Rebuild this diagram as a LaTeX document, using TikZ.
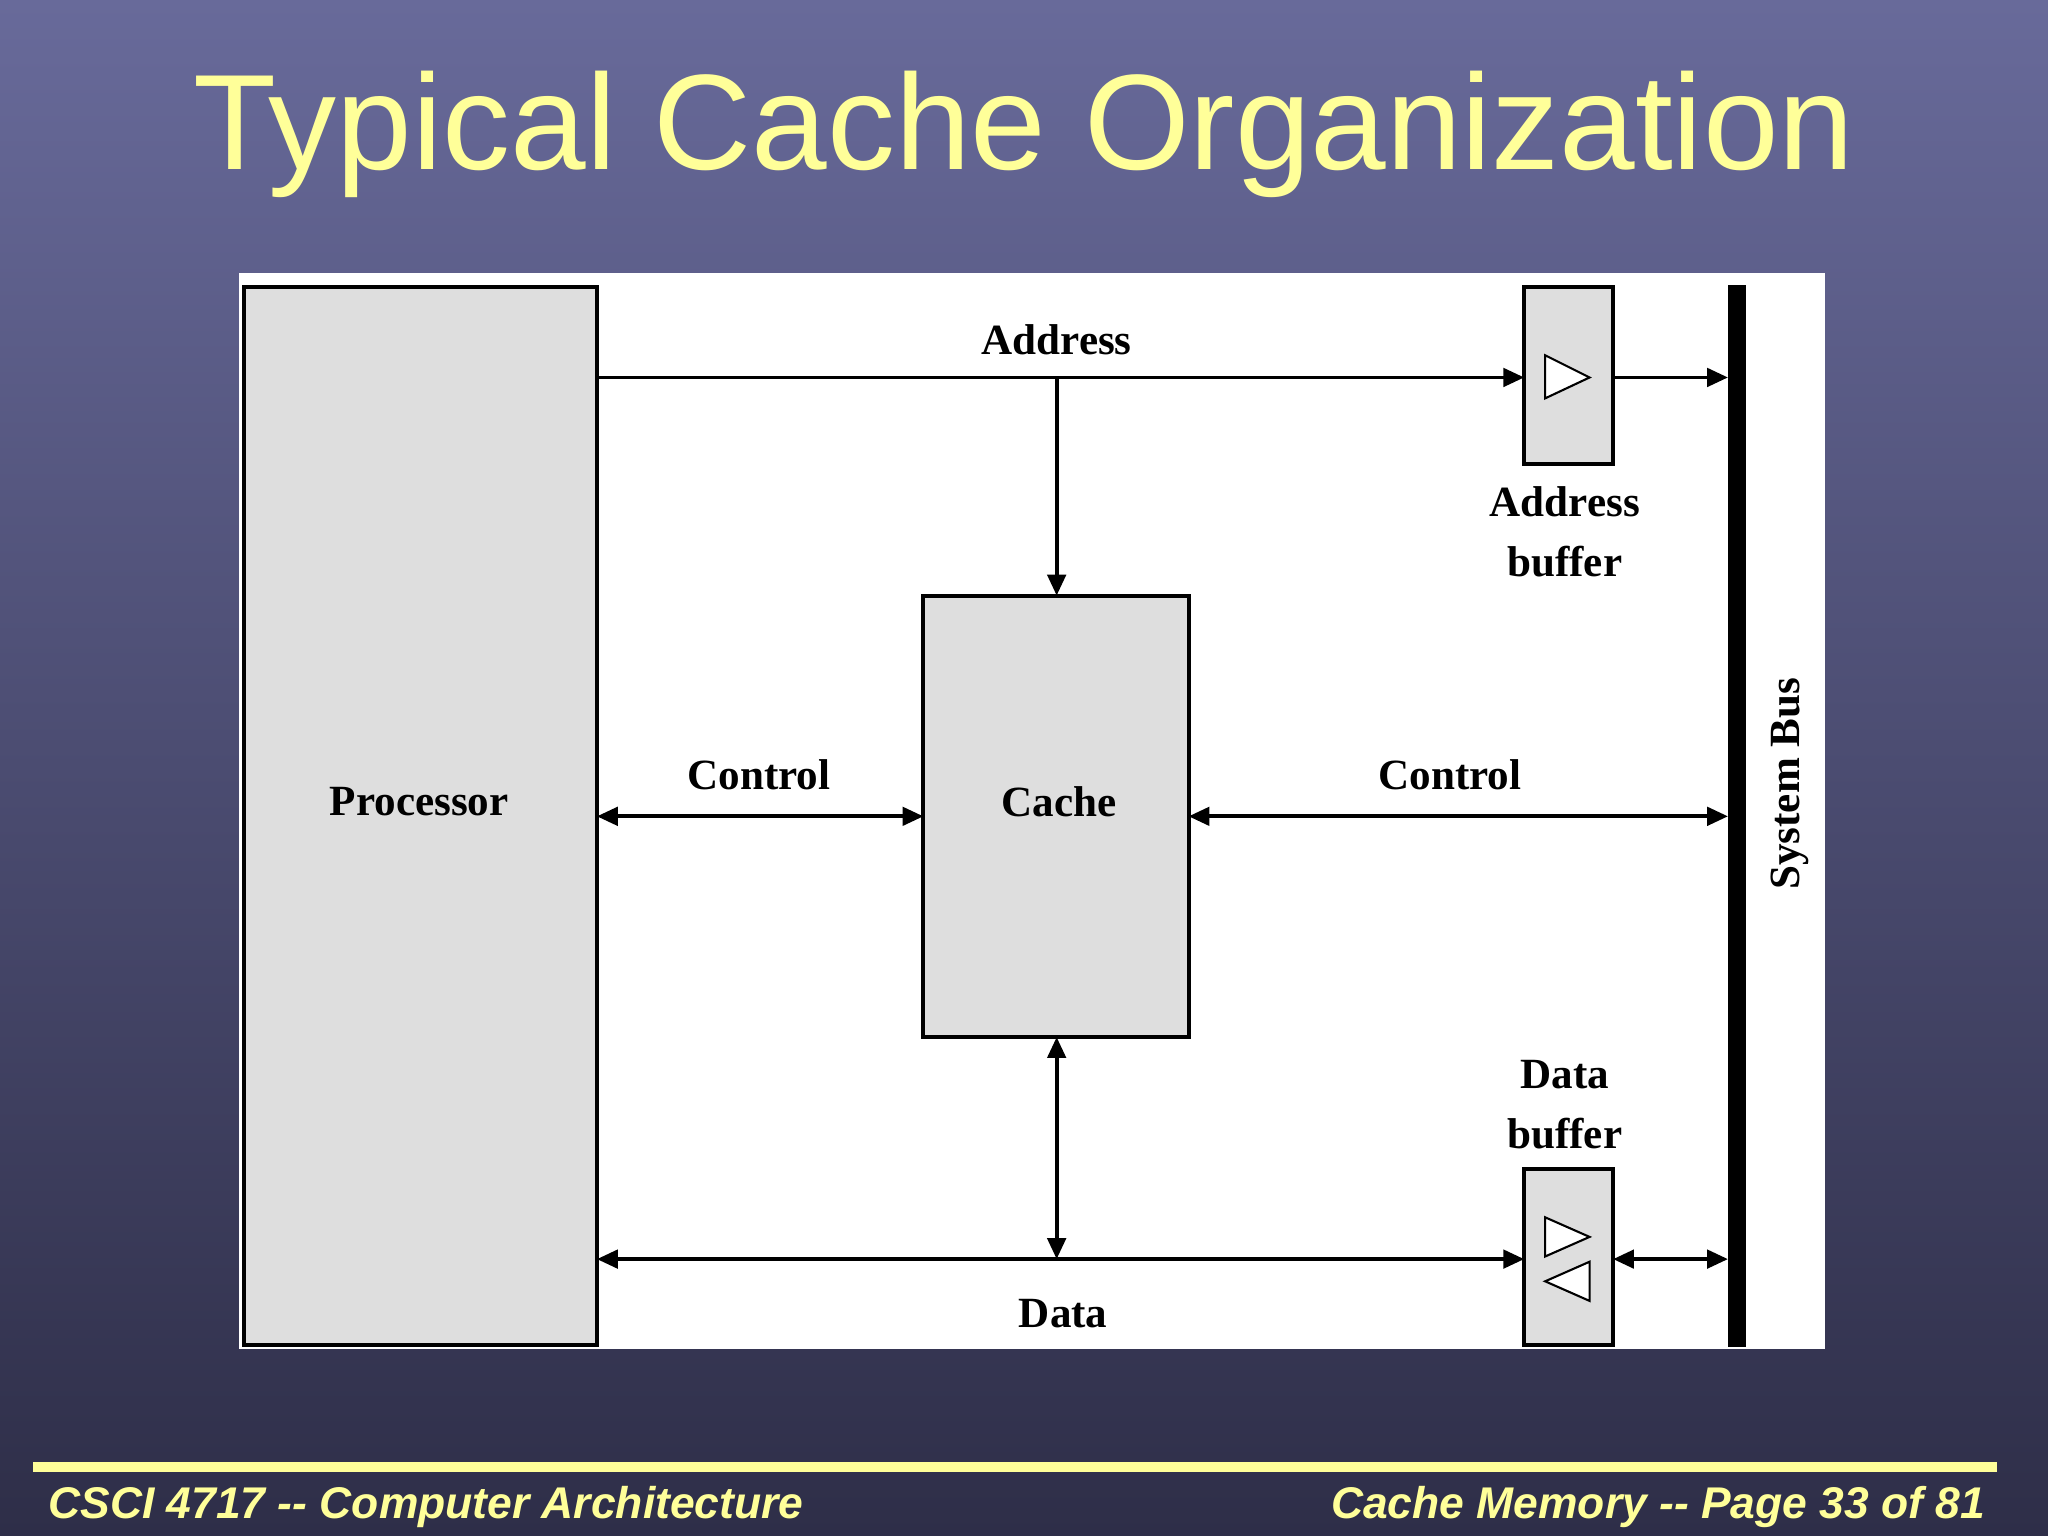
\documentclass[tikz,border=0pt]{standalone}
\usepackage{fontspec}
\setmainfont{Liberation Serif}
\newfontfamily\arial{Liberation Sans}
\usetikzlibrary{arrows.meta}
\definecolor{ttl}{HTML}{FFFF99}
\begin{document}
\begin{tikzpicture}[x=0.5pt,y=-0.5pt,
  box/.style={draw=black,line width=1.5pt,fill=black!13},
  wire/.style={line width=1.5pt},
  tip/.style={-{Triangle[length=8pt,width=7pt]}},
  tips/.style={{Triangle[length=8pt,width=7pt]}-{Triangle[length=8pt,width=7pt]}},
  lbl/.style={font=\fontsize{16.5}{19}\selectfont\bfseries,align=center,inner sep=0}]
\useasboundingbox (0,0) rectangle (1568,1176);
\shade[top color={rgb,255:red,104;green,106;blue,154},bottom color={rgb,255:red,46;green,46;blue,72}] (0,0) rectangle (1568,1176);
\node[font=\arial\fontsize{52}{60}\selectfont,text=ttl] (title) at (784,103) {Typical Cache Organization};
\fill[white] (183,209) rectangle (1397,1033);
\draw[box] (187,220) rectangle (457,1030);
\node[lbl] (proc) at (321,614) {Processor};
\draw[box] (707,456) rectangle (910,794);
\node[lbl] (cache) at (811,614) {Cache};
\draw[box] (1167,220) rectangle (1235,355);
\draw[box] (1167,895) rectangle (1235,1030);
\draw[line width=0.8pt,fill=white] (1183,272)--(1183,305)--(1217,289)--cycle;
\draw[line width=0.8pt,fill=white] (1183,932)--(1183,962)--(1217,947)--cycle;
\draw[line width=0.8pt,fill=white] (1217,966)--(1217,996)--(1183,981)--cycle;
\fill[black] (1323,218) rectangle (1337,1031);
\coordinate (a0) at (457,289); \coordinate (a1) at (1167,289);
\coordinate (a2) at (1235,289); \coordinate (a3) at (1323,289);
\coordinate (am) at (809,289); \coordinate (ct) at (809,456);
\draw[wire,tip] (a0)--(a1);
\draw[wire,tip] (a2)--(a3);
\draw[wire,tip] (am)--(ct);
\draw[wire,tips] (457,625)--(707,625);
\draw[wire,tips] (910,625)--(1323,625);
\draw[wire,tips] (457,964)--(1167,964);
\draw[wire,tips] (809,794)--(809,964);
\draw[wire,tips] (1235,964)--(1323,964);
\node[lbl] (la) at (809,260) {Address};
\node[lbl] (lab) at (1198,407) {Address\\[4pt]buffer};
\node[lbl] (lc1) at (581,593) {Control};
\node[lbl] (lc2) at (1110,593) {Control};
\node[lbl] (ldb) at (1198,846) {Data\\[4pt]buffer};
\node[lbl] (ld) at (814,1006) {Data};
\node[lbl,rotate=90] (bus) at (1370,600) {System Bus};
\fill[ttl] (25,1119) rectangle (1529,1127);
\node[anchor=west,text=ttl,font=\arial\fontsize{17}{20}\selectfont\bfseries\itshape] (fl) at (30,1154) {CSCI 4717 -- Computer Architecture};
\node[anchor=east,text=ttl,font=\arial\fontsize{17}{20}\selectfont\bfseries\itshape] (fr) at (1527,1154) {Cache Memory -- Page 33 of 81};
\end{tikzpicture}
\end{document}
